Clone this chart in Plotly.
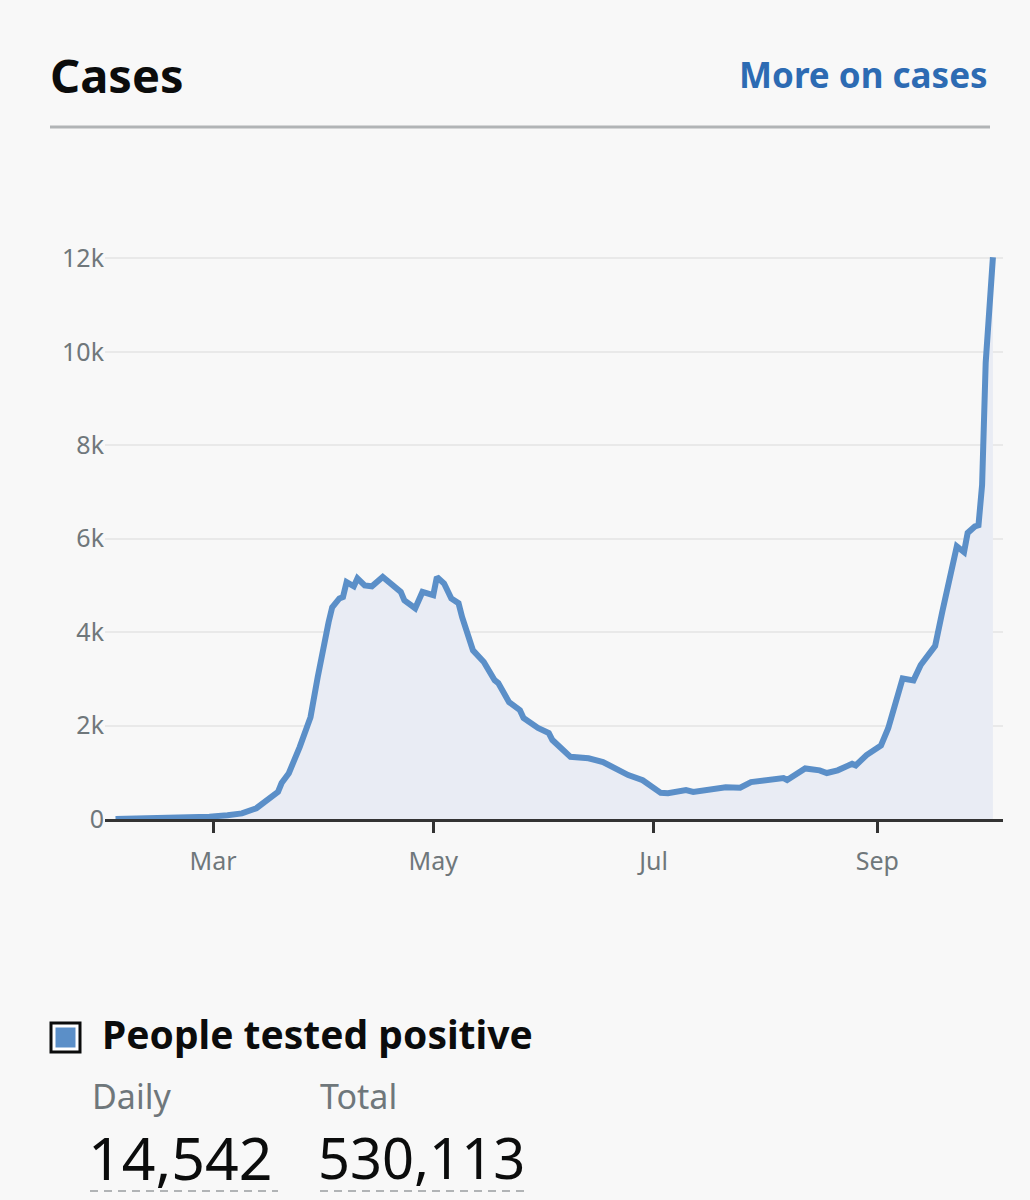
import plotly.graph_objects as go

# daily positive cases (UK, 2020)
dates = [
    "2020-02-03", "2020-02-13", "2020-02-21", "2020-02-29", "2020-03-05", "2020-03-09",
    "2020-03-13", "2020-03-16", "2020-03-19", "2020-03-20", "2020-03-22", "2020-03-25",
    "2020-03-28", "2020-03-30", "2020-03-31", "2020-04-02", "2020-04-03", "2020-04-05",
    "2020-04-06", "2020-04-07", "2020-04-09", "2020-04-10", "2020-04-12", "2020-04-14",
    "2020-04-17", "2020-04-19", "2020-04-20", "2020-04-22", "2020-04-23", "2020-04-26",
    "2020-04-28", "2020-05-01", "2020-05-02", "2020-05-04", "2020-05-06", "2020-05-08",
    "2020-05-09", "2020-05-11", "2020-05-12", "2020-05-15", "2020-05-18", "2020-05-19",
    "2020-05-22", "2020-05-25", "2020-05-26", "2020-05-30", "2020-06-02", "2020-06-03",
    "2020-06-05", "2020-06-08", "2020-06-13", "2020-06-17", "2020-06-24", "2020-06-27",
    "2020-06-28", "2020-07-03", "2020-07-05", "2020-07-10", "2020-07-12", "2020-07-21",
    "2020-07-25", "2020-07-28", "2020-08-03", "2020-08-06", "2020-08-07", "2020-08-09",
    "2020-08-12", "2020-08-16", "2020-08-18", "2020-08-21", "2020-08-25", "2020-08-26",
    "2020-08-28", "2020-08-29", "2020-09-02", "2020-09-04", "2020-09-08", "2020-09-11",
    "2020-09-13", "2020-09-17", "2020-09-19", "2020-09-21", "2020-09-23", "2020-09-25",
    "2020-09-26", "2020-09-28", "2020-09-29", "2020-09-30", "2020-10-01", "2020-10-03",
]
cases = [
    0, 10, 20, 50, 80, 120,
    230, 400, 580, 770, 980, 1540,
    2180, 3040, 3470, 4210, 4530, 4720,
    4750, 5070, 4980, 5150, 5000, 4980,
    5180, 5040, 5000, 4860, 4680, 4510,
    4860, 4790, 5180, 5040, 4720, 4620,
    4320, 3830, 3610, 3360, 2970, 2910,
    2500, 2330, 2160, 1950, 1840, 1690,
    1540, 1330, 1300, 1220, 940, 880,
    830, 560, 550, 620, 580, 680,
    670, 790, 836, 877, 836, 934,
    1082, 1041, 984, 1041, 1180, 1148,
    1311, 1369, 1574, 1943, 3008, 2967,
    3295, 3705, 4443, 5099, 5836, 5713,
    6123, 6262, 6287, 7148, 9771, 12025,
]

month_ticks = ["2020-03-01", "2020-05-01", "2020-07-01", "2020-09-01"]
month_labels = ["Mar", "May", "Jul", "Sep"]
y_ticks = [0, 2000, 4000, 6000, 8000, 10000, 12000]
y_labels = ["0", "2k", "4k", "6k", "8k", "10k", "12k"]

daily_value = "14,542"
total_value = "530,113"

FONT = "Noto Sans"
BLUE = "#5b8fc8"
GREY = "#6f777b"

# plot area in pixels
L, R, T, B = 105, 1003, 256, 819


def px(x):
    return (x - L) / (R - L)


def py(y):
    return (B - y) / (B - T)


fig = go.Figure()
fig.add_trace(go.Scatter(
    x=dates, y=cases, mode="lines",
    line=dict(color=BLUE, width=6),
    fill="tozeroy", fillcolor="#e9ecf4",
    hoverinfo="x+y",
))

fig.update_layout(
    width=1030, height=1200,
    margin=dict(l=L, r=1030 - R, t=T, b=1200 - B),
    paper_bgcolor="#f8f8f8", plot_bgcolor="#f8f8f8",
    showlegend=False,
    font=dict(family=FONT, color=GREY),
    xaxis=dict(
        range=["2020-01-31 02:00", "2020-10-05 19:00"],
        tickvals=month_ticks, ticktext=month_labels,
        ticks="outside", ticklen=11, tickwidth=3, tickcolor="#333333",
        showline=True, linecolor="#333333", linewidth=3,
        showgrid=False, zeroline=False, ticklabelstandoff=7,
        tickfont=dict(size=25, color=GREY),
    ),
    yaxis=dict(
        range=[0, 12050],
        tickvals=y_ticks, ticktext=y_labels,
        showgrid=True, gridcolor="#e9e9e9", gridwidth=2,
        zeroline=False, showline=False, ticks="",
        tickfont=dict(size=25, color=GREY),
    ),
)

annotations = [
    dict(text="<b>Cases</b>", x=px(48), y=py(75), xanchor="left", yanchor="middle",
         font=dict(size=47, color="#0b0c0c")),
    dict(text="<b>More on cases</b>", x=px(990), y=py(74), xanchor="right", yanchor="middle",
         font=dict(size=35, color="#2d6bb3")),
    dict(text="<b>People tested positive</b>", x=px(100), y=py(1033), xanchor="left",
         yanchor="middle", font=dict(size=39, color="#0b0c0c")),
    dict(text="Daily", x=px(90), y=py(1096), xanchor="left", yanchor="middle",
         font=dict(size=34, color=GREY)),
    dict(text="Total", x=px(318), y=py(1096), xanchor="left", yanchor="middle",
         font=dict(size=34, color=GREY)),
    dict(text=daily_value, x=px(86), y=py(1157), xanchor="left", yanchor="middle",
         font=dict(size=59, color="#0b0c0c")),
    dict(text=total_value, x=px(316), y=py(1157), xanchor="left", yanchor="middle",
         font=dict(size=56, color="#0b0c0c")),
]
for a in annotations:
    a.update(xref="paper", yref="paper", showarrow=False)
fig.update_layout(annotations=annotations)

shapes = [
    dict(type="line", x0=px(50), x1=px(990), y0=py(127), y1=py(127),
         line=dict(color="#b1b4b6", width=3)),
    dict(type="rect", x0=px(51), x1=px(80), y0=py(1052), y1=py(1023),
         line=dict(color="#0b0c0c", width=3), fillcolor="#ffffff"),
    dict(type="rect", x0=px(55.5), x1=px(75.5), y0=py(1047.5), y1=py(1027.5),
         line=dict(width=0), fillcolor=BLUE),
    dict(type="line", x0=px(90), x1=px(278), y0=py(1191), y1=py(1191),
         line=dict(color="#b1b4b6", width=2, dash="8px,6px")),
    dict(type="line", x0=px(320), x1=px(526), y0=py(1191), y1=py(1191),
         line=dict(color="#b1b4b6", width=2, dash="8px,6px")),
]
for s in shapes:
    s.update(xref="paper", yref="paper", layer="above")
fig.update_layout(shapes=shapes)

fig.write_html("out.html", config={"displayModeBar": False},
               post_script="document.body.style.margin='0';")
